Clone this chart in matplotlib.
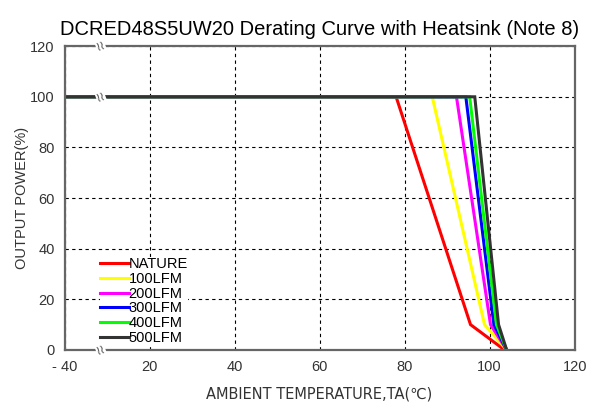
import numpy as np
import matplotlib.pyplot as plt

plt.rcParams['font.family'] = ['Liberation Sans Narrow', 'Liberation Sans', 'DejaVu Sans']

# derating curves: ambient temperature (C) vs output power (%)
power = [100, 100, 10, 0]
t_nature = [-40, 78.0, 95.5, 103.5]
t_100lfm = [-40, 86.5, 98.8, 104.0]
t_200lfm = [-40, 92.2, 100.2, 104.0]
t_300lfm = [-40, 94.4, 101.0, 104.0]
t_400lfm = [-40, 95.3, 101.6, 104.0]
t_500lfm = [-40, 96.5, 102.1, 104.0]

labels = ["NATURE", "100LFM", "200LFM", "300LFM", "400LFM", "500LFM"]
colors = ["#ff0000", "#ffff00", "#ff00ff", "#0000ff", "#00ff00", "#333333"]

x_ticks = [-40, 20, 40, 60, 80, 100, 120]
x_ticklabels = ["- 40", "20", "40", "60", "80", "100", "120"]
y_ticks = [0, 20, 40, 60, 80, 100, 120]


# broken axis: -40..20 squeezed into one grid step
def fwd(x):
    x = np.asarray(x, dtype=float)
    return np.where(x < 20, (x + 40) / 3.0, x)


def inv(u):
    u = np.asarray(u, dtype=float)
    return np.where(u < 20, 3.0 * u - 40, u)


fig = plt.figure(figsize=(6.03, 4.05), dpi=100)
ax = fig.add_axes([0.107, 0.136, 0.846, 0.750])
ax.set_xscale('function', functions=(fwd, inv))

series = [t_nature, t_100lfm, t_200lfm, t_300lfm, t_400lfm, t_500lfm]
for temps, lab, col in zip(series, labels, colors):
    ax.plot(temps, power, color=col, lw=2.2, label=lab, solid_joinstyle='miter')

ax.set_xlim(-40, 120)
ax.set_ylim(0, 120)
ax.set_xticks(x_ticks)
ax.set_xticklabels(x_ticklabels)
ax.set_yticks(y_ticks)
ax.tick_params(length=0, pad=7, labelsize=10.5, colors='#333333')
ax.grid(True, color='black', ls=(0, (3, 3)), lw=0.8)

for s in ax.spines.values():
    s.set_color('#666666')
    s.set_linewidth(1.6)

# break marks
for yv in [0, 100, 120]:
    ax.text(-14.5, yv, "\u2240\u2240", rotation=20, ha='center', va='center',
            fontsize=9, color='#555555', family='DejaVu Sans',
            bbox=dict(facecolor='white', edgecolor='none', pad=0.0), zorder=5)

ax.set_title("DCRED48S5UW20 Derating Curve with Heatsink (Note 8)",
             fontsize=14.5, family='Liberation Sans', pad=8)
ax.set_xlabel("AMBIENT TEMPERATURE,TA(\u2103)", fontsize=10.5, color='#333333',
              family=['Liberation Sans Narrow', 'DejaVu Sans'], labelpad=9)
ax.set_ylabel("OUTPUT POWER(%)", fontsize=10.5, color='#333333', labelpad=1)

leg = ax.legend(loc='upper left', bbox_to_anchor=(0.07, 0.305), frameon=True,
                fontsize=10.5, handlelength=1.95, handletextpad=0.0,
                labelspacing=0.05, borderpad=0.0, borderaxespad=0.0)
leg.get_frame().set_edgecolor('none')
leg.get_frame().set_facecolor('white')
leg.get_frame().set_alpha(1)

fig.savefig("out.png", dpi=100)
